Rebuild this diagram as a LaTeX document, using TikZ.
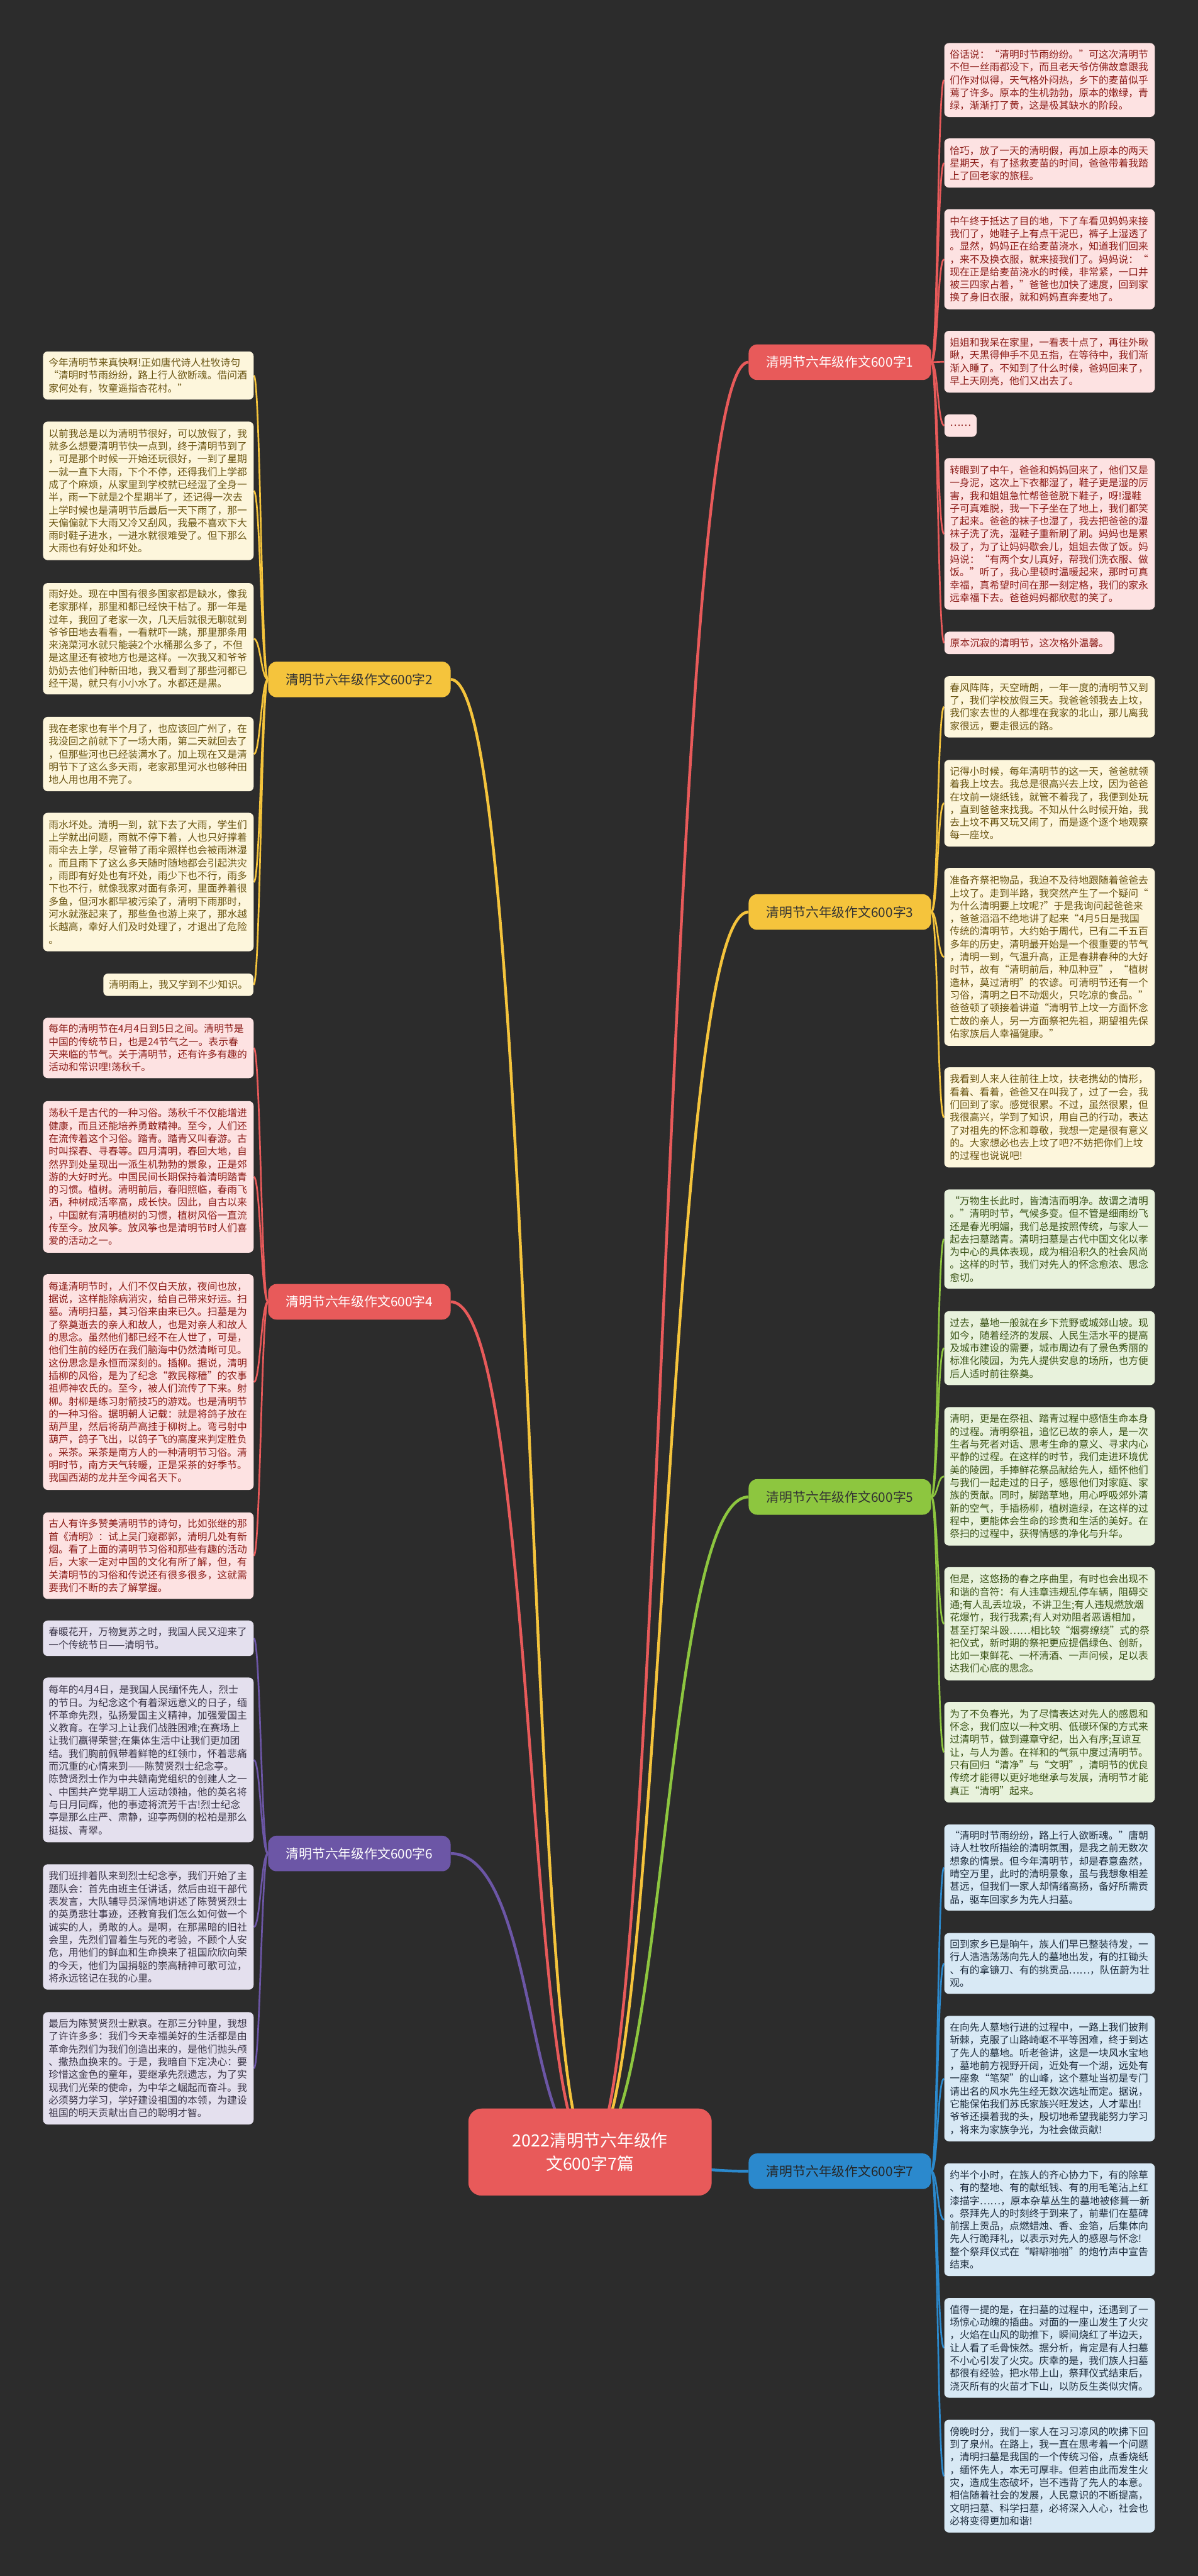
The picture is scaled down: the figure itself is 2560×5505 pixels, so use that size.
\documentclass[tikz,border=0pt]{standalone}
\usepackage{fontspec}
\setmainfont{Noto Sans CJK SC}
\usetikzlibrary{backgrounds}
\definecolor{bgdark}{RGB}{44,44,44}
\definecolor{redline}{RGB}{232,90,90}
\definecolor{redfill}{RGB}{253,226,226}
\definecolor{redtext}{RGB}{140,28,24}
\definecolor{yelline}{RGB}{245,196,60}
\definecolor{yelfill}{RGB}{253,246,220}
\definecolor{yeltext}{RGB}{105,84,18}
\definecolor{grnline}{RGB}{141,198,63}
\definecolor{grnfill}{RGB}{232,242,220}
\definecolor{grntext}{RGB}{58,82,22}
\definecolor{bluline}{RGB}{43,137,205}
\definecolor{blufill}{RGB}{216,233,245}
\definecolor{blutext}{RGB}{30,45,62}
\definecolor{purline}{RGB}{108,86,166}
\definecolor{purfill}{RGB}{228,224,238}
\definecolor{purtext}{RGB}{58,53,72}
\begin{document}
\begin{tikzpicture}[x=0.5pt,y=-0.5pt,
  leaf/.style={rounded corners=5pt,inner xsep=6pt,inner ysep=3pt,text width=213pt,align=left,
    font=\fontsize{10.6pt}{13.65pt}\selectfont},
  leafshort/.style={rounded corners=5pt,inner xsep=6pt,inner ysep=3pt,minimum height=24pt,
    font=\fontsize{10.6pt}{13.65pt}\selectfont},
  redleaf/.style={fill=redfill,text=redtext},
  yelleaf/.style={fill=yelfill,text=yeltext},
  grnleaf/.style={fill=grnfill,text=grntext},
  bluleaf/.style={fill=blufill,text=blutext},
  purleaf/.style={fill=purfill,text=purtext},
  branch/.style={rounded corners=9pt,minimum width=195pt,minimum height=38pt,
    font=\fontsize{14pt}{16pt}\selectfont},
  mainline/.style={line width=3pt},
  twig/.style={line width=1.8pt}]

\node[rounded corners=14pt,fill=redline,text=white,minimum width=260pt,minimum height=93pt,align=center,
  font=\fontsize{18pt}{25pt}\selectfont] (c) at (1261,4599) {2022清明节六年级作\\文600字7篇};

\node[branch,fill=redline,text=white] (b1) at (1795,774) {清明节六年级作文600字1};
\node[branch,fill=yelline,text=black!80] (b3) at (1795,1949) {清明节六年级作文600字3};
\node[branch,fill=grnline,text=black!80] (b5) at (1795,3199) {清明节六年级作文600字5};
\node[branch,fill=bluline,text=black!85] (b7) at (1795,4640) {清明节六年级作文600字7};
\node[branch,fill=yelline,text=black!80] (b2) at (768,1452) {清明节六年级作文600字2};
\node[branch,fill=redline,text=white] (b4) at (768,2782) {清明节六年级作文600字4};
\node[branch,fill=purline,text=white] (b6) at (768,3961) {清明节六年级作文600字6};

\node[leaf,redleaf,minimum height=79pt] (r1a) at (2243,171) {俗话说：“清明时节雨纷纷。”可这次清明节\\不但一丝雨都没下，而且老天爷仿佛故意跟我\\们作对似得，天气格外闷热，乡下的麦苗似乎\\蔫了许多。原本的生机勃勃，原本的嫩绿，青\\绿，渐渐打了黄，这是极其缺水的阶段。};
\node[leaf,redleaf,minimum height=52.5pt] (r1b) at (2243,348.5) {恰巧，放了一天的清明假，再加上原本的两天\\星期天，有了拯救麦苗的时间，爸爸带着我踏\\上了回老家的旅程。};
\node[leaf,redleaf,minimum height=107pt] (r1c) at (2243,554) {中午终于抵达了目的地，下了车看见妈妈来接\\我们了，她鞋子上有点干泥巴，裤子上湿透了\\。显然，妈妈正在给麦苗浇水，知道我们回来\\，来不及换衣服，就来接我们了。妈妈说：“\\现在正是给麦苗浇水的时候，非常紧，一口井\\被三四家占着，”爸爸也加快了速度，回到家\\换了身旧衣服，就和妈妈直奔麦地了。};
\node[leaf,redleaf,minimum height=66pt] (r1d) at (2243,773) {姐姐和我呆在家里，一看表十点了，再往外瞅\\瞅，天黑得伸手不见五指，在等待中，我们渐\\渐入睡了。不知到了什么时候，爸妈回来了，\\早上天刚亮，他们又出去了。};
\node[leafshort,redleaf,anchor=west,minimum width=28pt] (r1e) at (2018,909.5) {……};
\node[leaf,redleaf,minimum height=162pt] (r1f) at (2243,1141) {转眼到了中午，爸爸和妈妈回来了，他们又是\\一身泥，这次上下衣都湿了，鞋子更是湿的厉\\害，我和姐姐急忙帮爸爸脱下鞋子，呀!湿鞋\\子可真难脱，我一下子坐在了地上，我们都笑\\了起来。爸爸的袜子也湿了，我去把爸爸的湿\\袜子洗了洗，湿鞋子重新刷了刷。妈妈也是累\\极了，为了让妈妈歇会儿，姐姐去做了饭。妈\\妈说：“有两个女儿真好，帮我们洗衣服、做\\饭。”听了，我心里顿时温暖起来，那时可真\\幸福，真希望时间在那一刻定格，我们的家永\\远幸福下去。爸爸妈妈都欣慰的笑了。};
\node[leafshort,redleaf,anchor=west] (r1g) at (2018,1374) {原本沉寂的清明节，这次格外温馨。};

\node[leaf,yelleaf,minimum height=65.5pt] (r3a) at (2243,1510.5) {春风阵阵，天空晴朗，一年一度的清明节又到\\了，我们学校放假三天。我爸爸领我去上坟，\\我们家去世的人都埋在我家的北山，那儿离我\\家很远，要走很远的路。};
\node[leaf,yelleaf,minimum height=92.5pt] (r3b) at (2243,1716.5) {记得小时候，每年清明节的这一天，爸爸就领\\着我上坟去。我总是很高兴去上坟，因为爸爸\\在坟前一烧纸钱，就管不着我了，我便到处玩\\，直到爸爸来找我。不知从什么时候开始，我\\去上坟不再又玩又闹了，而是逐个逐个地观察\\每一座坟。};
\node[leaf,yelleaf,minimum height=190pt] (r3c) at (2243,2045) {准备齐祭祀物品，我迫不及待地跟随着爸爸去\\上坟了。走到半路，我突然产生了一个疑问“\\为什么清明要上坟呢?”于是我询问起爸爸来\\，爸爸滔滔不绝地讲了起来“4月5日是我国\\传统的清明节，大约始于周代，已有二千五百\\多年的历史，清明最开始是一个很重要的节气\\，清明一到，气温升高，正是春耕春种的大好\\时节，故有“清明前后，种瓜种豆”，“植树\\造林，莫过清明”的农谚。可清明节还有一个\\习俗，清明之日不动烟火，只吃凉的食品。”\\爸爸顿了顿接着讲道“清明节上坟一方面怀念\\亡故的亲人，另一方面祭祀先祖，期望祖先保\\佑家族后人幸福健康。”};
\node[leaf,yelleaf,minimum height=107pt] (r3d) at (2243,2388) {我看到人来人往前往上坟，扶老携幼的情形，\\看着、看着，爸爸又在叫我了，过了一会，我\\们回到了家。感觉很累。不过，虽然很累，但\\我很高兴，学到了知识，用自己的行动，表达\\了对祖先的怀念和尊敬，我想一定是很有意义\\的。大家想必也去上坟了吧?不妨把你们上坟\\的过程也说说吧!};

\node[leaf,grnleaf,minimum height=106pt] (r5a) at (2243,2648) {“万物生长此时，皆清洁而明净。故谓之清明\\。”清明时节，气候多变。但不管是细雨纷飞\\还是春光明媚，我们总是按照传统，与家人一\\起去扫墓踏青。清明扫墓是古代中国文化以孝\\为中心的具体表现，成为相沿积久的社会风尚\\。这样的时节，我们对先人的怀念愈浓、思念\\愈切。};
\node[leaf,grnleaf,minimum height=79pt] (r5b) at (2243,2881) {过去，墓地一般就在乡下荒野或城郊山坡。现\\如今，随着经济的发展、人民生活水平的提高\\及城市建设的需要，城市周边有了景色秀丽的\\标准化陵园，为先人提供安息的场所，也方便\\后人适时前往祭奠。};
\node[leaf,grnleaf,minimum height=148pt] (r5c) at (2243,3155) {清明，更是在祭祖、踏青过程中感悟生命本身\\的过程。清明祭祖，追忆已故的亲人，是一次\\生者与死者对话、思考生命的意义、寻求内心\\平静的过程。在这样的时节，我们走进环境优\\美的陵园，手捧鲜花祭品献给先人，缅怀他们\\与我们一起走过的日子，感恩他们对家庭、家\\族的贡献。同时，脚踏草地，用心呼吸郊外清\\新的空气，手插杨柳，植树造绿，在这样的过\\程中，更能体会生命的珍贵和生活的美好。在\\祭扫的过程中，获得情感的净化与升华。};
\node[leaf,grnleaf,minimum height=121pt] (r5d) at (2243,3470) {但是，这悠扬的春之序曲里，有时也会出现不\\和谐的音符：有人违章违规乱停车辆，阻碍交\\通;有人乱丢垃圾，不讲卫生;有人违规燃放烟\\花爆竹，我行我素;有人对劝阻者恶语相加，\\甚至打架斗殴……相比较“烟雾缭绕”式的祭\\祀仪式，新时期的祭祀更应提倡绿色、创新，\\比如一束鲜花、一杯清酒、一声问候，足以表\\达我们心底的思念。};
\node[leaf,grnleaf,minimum height=107.5pt] (r5e) at (2243,3744.5) {为了不负春光，为了尽情表达对先人的感恩和\\怀念，我们应以一种文明、低碳环保的方式来\\过清明节，做到遵章守纪，出入有序;互谅互\\让，与人为善。在祥和的气氛中度过清明节。\\只有回归“清净”与“文明”，清明节的优良\\传统才能得以更好地继承与发展，清明节才能\\真正“清明”起来。};

\node[leaf,bluleaf,minimum height=92pt] (r7a) at (2243,3991) {“清明时节雨纷纷，路上行人欲断魂。”唐朝\\诗人杜牧所描绘的清明氛围，是我之前无数次\\想象的情景。但今年清明节，却是春意盎然，\\晴空万里，此时的清明景象，虽与我想象相差\\甚远，但我们一家人却情绪高扬，备好所需贡\\品，驱车回家乡为先人扫墓。};
\node[leaf,bluleaf,minimum height=65pt] (r7b) at (2243,4196) {回到家乡已是晌午，族人们早已整装待发，一\\行人浩浩荡荡向先人的墓地出发，有的扛锄头\\、有的拿镰刀、有的挑贡品……，队伍蔚为壮\\观。};
\node[leaf,bluleaf,minimum height=134pt] (r7c) at (2243,4442) {在向先人墓地行进的过程中，一路上我们披荆\\斩棘，克服了山路崎岖不平等困难，终于到达\\了先人的墓地。听老爸讲，这是一块风水宝地\\，墓地前方视野开阔，近处有一个湖，远处有\\一座象“笔架”的山峰，这个墓址当初是专门\\请出名的风水先生经无数次选址而定。据说，\\它能保佑我们苏氏家族兴旺发达，人才辈出!\\爷爷还摸着我的头，殷切地希望我能努力学习\\，将来为家族争光，为社会做贡献!};
\node[leaf,bluleaf,minimum height=120.5pt] (r7d) at (2243,4743.5) {约半个小时，在族人的齐心协力下，有的除草\\、有的整地、有的献纸钱、有的用毛笔沾上红\\漆描字……，原本杂草丛生的墓地被修葺一新\\。祭拜先人的时刻终于到来了，前辈们在墓碑\\前摆上贡品，点燃蜡烛、香、金箔，后集体向\\先人行跪拜礼，以表示对先人的感恩与怀念!\\整个祭拜仪式在“噼噼啪啪”的炮竹声中宣告\\结束。};
\node[leaf,bluleaf,minimum height=106.5pt] (r7e) at (2243,5017.5) {值得一提的是，在扫墓的过程中，还遇到了一\\场惊心动魄的插曲。对面的一座山发生了火灾\\，火焰在山风的助推下，瞬间烧红了半边天，\\让人看了毛骨悚然。据分析，肯定是有人扫墓\\不小心引发了火灾。庆幸的是，我们族人扫墓\\都很有经验，把水带上山，祭拜仪式结束后，\\浇灭所有的火苗才下山，以防反生类似灾情。};
\node[leaf,bluleaf,minimum height=120.5pt] (r7f) at (2243,5291.5) {傍晚时分，我们一家人在习习凉风的吹拂下回\\到了泉州。在路上，我一直在思考着一个问题\\，清明扫墓是我国的一个传统习俗，点香烧纸\\，缅怀先人，本无可厚非。但若由此而发生火\\灾，造成生态破坏，岂不违背了先人的本意。\\相信随着社会的发展，人民意识的不断提高，\\文明扫墓、科学扫墓，必将深入人心，社会也\\必将变得更加和谐!};

\node[leaf,yelleaf,minimum height=51.5pt] (l2a) at (317,802.5) {今年清明节来真快啊!正如唐代诗人杜牧诗句\\“清明时节雨纷纷，路上行人欲断魂。借问酒\\家何处有，牧童遥指杏花村。”};
\node[leaf,yelleaf,minimum height=148pt] (l2b) at (317,1049) {以前我总是以为清明节很好，可以放假了，我\\就多么想要清明节快一点到，终于清明节到了\\，可是那个时候一开始还玩很好，一到了星期\\一就一直下大雨，下个不停，还得我们上学都\\成了个麻烦，从家里到学校就已经湿了全身一\\半，雨一下就是2个星期半了，还记得一次去\\上学时候也是清明节后最后一天下雨了，那一\\天偏偏就下大雨又冷又刮风，我最不喜欢下大\\雨时鞋子进水，一进水就很难受了。但下那么\\大雨也有好处和坏处。};
\node[leaf,yelleaf,minimum height=119pt] (l2c) at (317,1365) {雨好处。现在中国有很多国家都是缺水，像我\\老家那样，那里和都已经快干枯了。那一年是\\过年，我回了老家一次，几天后就很无聊就到\\爷爷田地去看看，一看就吓一跳，那里那条用\\来浇菜河水就只能装2个水桶那么多了，不但\\是这里还有被地方也是这样。一次我又和爷爷\\奶奶去他们种新田地，我又看到了那些河都已\\经干渴，就只有小小水了。水都还是黑。};
\node[leaf,yelleaf,minimum height=79.5pt] (l2d) at (317,1611.5) {我在老家也有半个月了，也应该回广州了，在\\我没回之前就下了一场大雨，第二天就回去了\\，但那些河也已经装满水了。加上现在又是清\\明节下了这么多天雨，老家那里河水也够种田\\地人用也用不完了。};
\node[leaf,yelleaf,minimum height=148pt] (l2e) at (317,1885) {雨水坏处。清明一到，就下去了大雨，学生们\\上学就出问题，雨就不停下着，人也只好撑着\\雨伞去上学，尽管带了雨伞照样也会被雨淋湿\\。而且雨下了这么多天随时随地都会引起洪灾\\，雨即有好处也有坏处，雨少下也不行，雨多\\下也不行，就像我家对面有条河，里面养着很\\多鱼，但河水都早被污染了，清明下雨那时，\\河水就涨起来了，那些鱼也游上来了，那水越\\长越高，幸好人们及时处理了，才退出了危险\\。};
\node[leafshort,yelleaf,anchor=east] (l2f) at (542,2104.5) {清明雨上，我又学到不少知识。};

\node[leaf,redleaf,minimum height=64.5pt] (l4a) at (317,2239.5) {每年的清明节在4月4日到5日之间。清明节是\\中国的传统节日，也是24节气之一。表示春\\天来临的节气。关于清明节，还有许多有趣的\\活动和常识哩!荡秋千。};
\node[leaf,redleaf,minimum height=162pt] (l4b) at (317,2515) {荡秋千是古代的一种习俗。荡秋千不仅能增进\\健康，而且还能培养勇敢精神。至今，人们还\\在流传着这个习俗。踏青。踏青又叫春游。古\\时叫探春、寻春等。四月清明，春回大地，自\\然界到处呈现出一派生机勃勃的景象，正是郊\\游的大好时光。中国民间长期保持着清明踏青\\的习惯。植树。清明前后，春阳照临，春雨飞\\洒，种树成活率高，成长快。因此，自古以来\\，中国就有清明植树的习惯，植树风俗一直流\\传至今。放风筝。放风筝也是清明节时人们喜\\爱的活动之一。};
\node[leaf,redleaf,minimum height=230.5pt] (l4c) at (317,2953.5) {每逢清明节时，人们不仅白天放，夜间也放，\\据说，这样能除病消灾，给自己带来好运。扫\\墓。清明扫墓，其习俗来由来已久。扫墓是为\\了祭奠逝去的亲人和故人，也是对亲人和故人\\的思念。虽然他们都已经不在人世了，可是，\\他们生前的经历在我们脑海中仍然清晰可见。\\这份思念是永恒而深刻的。插柳。据说，清明\\插柳的风俗，是为了纪念“教民稼穑”的农事\\祖师神农氏的。至今，被人们流传了下来。射\\柳。射柳是练习射箭技巧的游戏。也是清明节\\的一种习俗。据明朝人记载：就是将鸽子放在\\葫芦里，然后将葫芦高挂于柳树上。弯弓射中\\葫芦，鸽子飞出，以鸽子飞的高度来判定胜负\\。采茶。采茶是南方人的一种清明节习俗。清\\明时节，南方天气转暖，正是采茶的好季节。\\我国西湖的龙井至今闻名天下。};
\node[leaf,redleaf,minimum height=92.5pt] (l4d) at (317,3324.5) {古人有许多赞美清明节的诗句，比如张继的那\\首《清明》：试上吴门窥郡郭，清明几处有新\\烟。看了上面的清明节习俗和那些有趣的活动\\后，大家一定对中国的文化有所了解，但，有\\关清明节的习俗和传说还有很多很多，这就需\\要我们不断的去了解掌握。};

\node[leaf,purleaf,minimum height=38pt] (l6a) at (317,3501) {春暖花开，万物复苏之时，我国人民又迎来了\\一个传统节日——清明节。};
\node[leaf,purleaf,minimum height=176pt] (l6b) at (317,3761) {每年的4月4日，是我国人民缅怀先人，烈士\\的节日。为纪念这个有着深远意义的日子，缅\\怀革命先烈，弘扬爱国主义精神，加强爱国主\\义教育。在学习上让我们战胜困难;在赛场上\\让我们赢得荣誉;在集体生活中让我们更加团\\结。我们胸前佩带着鲜艳的红领巾，怀着悲痛\\而沉重的心情来到——陈赞贤烈士纪念亭。\\陈赞贤烈士作为中共赣南党组织的创建人之一\\、中国共产党早期工人运动领袖，他的英名将\\与日月同辉，他的事迹将流芳千古!烈士纪念\\亭是那么庄严、肃静，迎亭两侧的松柏是那么\\挺拔、青翠。};
\node[leaf,purleaf,minimum height=134pt] (l6c) at (317,4118) {我们班排着队来到烈士纪念亭，我们开始了主\\题队会：首先由班主任讲话，然后由班干部代\\表发言，大队辅导员深情地讲述了陈赞贤烈士\\的英勇悲壮事迹，还教育我们怎么如何做一个\\诚实的人，勇敢的人。是啊，在那黑暗的旧社\\会里，先烈们冒着生与死的考验，不顾个人安\\危，用他们的鲜血和生命换来了祖国欣欣向荣\\的今天，他们为国捐躯的崇高精神可歌可泣，\\将永远铭记在我的心里。};
\node[leaf,purleaf,minimum height=120pt] (l6d) at (317,4420) {最后为陈赞贤烈士默哀。在那三分钟里，我想\\了许许多多：我们今天幸福美好的生活都是由\\革命先烈们为我们创造出来的，是他们抛头颅\\、撒热血换来的。于是，我暗自下定决心：要\\珍惜这金色的童年，要继承先烈遗志，为了实\\现我们光荣的使命，为中华之崛起而奋斗。我\\必须努力学习，学好建设祖国的本领，为建设\\祖国的明天贡献出自己的聪明才智。};

\begin{scope}[on background layer]
\fill[bgdark] (0,0) rectangle (2560,5505);
\draw[redline,mainline] (c.center) .. controls +(160,0) and +(-180,0) .. (b1.west);
\draw[yelline,mainline] (c.center) .. controls +(160,0) and +(-180,0) .. (b3.west);
\draw[grnline,mainline] (c.center) .. controls +(160,0) and +(-180,0) .. (b5.west);
\draw[bluline,mainline] (c.center) .. controls +(160,0) and +(-180,0) .. (b7.west);
\draw[yelline,mainline] (c.center) .. controls +(-135,0) and +(180,0) .. (b2.east);
\draw[redline,mainline] (c.center) .. controls +(-135,0) and +(180,0) .. (b4.east);
\draw[purline,mainline] (c.center) .. controls +(-135,0) and +(180,0) .. (b6.east);
\foreach \n in {r1a,r1b,r1c,r1d,r1e,r1f,r1g}
  \draw[redline,twig] (b1.east) .. controls +(14,0) and +(-14,0) .. (\n.west);
\foreach \n in {r3a,r3b,r3c,r3d}
  \draw[yelline,twig] (b3.east) .. controls +(14,0) and +(-14,0) .. (\n.west);
\foreach \n in {r5a,r5b,r5c,r5d,r5e}
  \draw[grnline,twig] (b5.east) .. controls +(14,0) and +(-14,0) .. (\n.west);
\foreach \n in {r7a,r7b,r7c,r7d,r7e,r7f}
  \draw[bluline,twig] (b7.east) .. controls +(14,0) and +(-14,0) .. (\n.west);
\foreach \n in {l2a,l2b,l2c,l2d,l2e,l2f}
  \draw[yelline,twig] (b2.west) .. controls +(-14,0) and +(14,0) .. (\n.east);
\foreach \n in {l4a,l4b,l4c,l4d}
  \draw[redline,twig] (b4.west) .. controls +(-14,0) and +(14,0) .. (\n.east);
\foreach \n in {l6a,l6b,l6c,l6d}
  \draw[purline,twig] (b6.west) .. controls +(-14,0) and +(14,0) .. (\n.east);
\end{scope}
\useasboundingbox (0,0) rectangle (2560,5505);
\end{tikzpicture}
\end{document}
